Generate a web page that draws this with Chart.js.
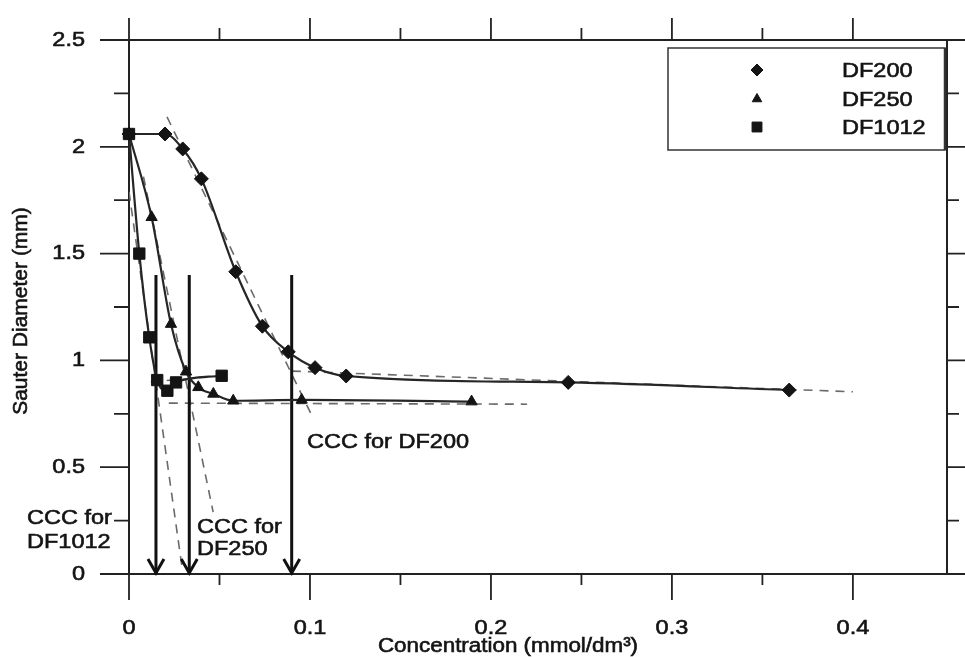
<!DOCTYPE html>
<html>
<head>
<meta charset="utf-8">
<script src="https://cdn.jsdelivr.net/npm/chart.js@4.4.1/dist/chart.umd.min.js"></script>
<style>
  html, body { margin: 0; padding: 0; background: #fff; }
  #wrap { width: 965px; height: 657px; }
</style>
</head>
<body>
<div id="wrap"><canvas id="myChart" width="965" height="657"></canvas></div>
<script>
// measured points: concentration (mmol/dm3) vs Sauter diameter (mm)
const df200X = [0, 0.0199, 0.0297, 0.040, 0.059, 0.0737, 0.088, 0.1028, 0.120, 0.2427, 0.3648];
const df200Y = [2.06, 2.06, 1.99, 1.85, 1.415, 1.16, 1.04, 0.966, 0.927, 0.897, 0.861];
const df250X = [0, 0.0125, 0.0232, 0.0315, 0.0383, 0.0466, 0.0576, 0.0954, 0.1893];
const df250Y = [2.06, 1.67, 1.17, 0.947, 0.874, 0.843, 0.811, 0.815, 0.807];
const df1012X = [0, 0.0057, 0.0112, 0.0156, 0.0212, 0.026, 0.0512];
const df1012Y = [2.06, 1.50, 1.108, 0.908, 0.858, 0.897, 0.928];

// dashed tangent lines used for the CCC construction
const tan200Steep = [[0.021, 2.14], [0.1017, 0.73]];
const tan200Flat = [[0.09, 0.95], [0.40, 0.853]];
const tan250Steep = [[0.008, 1.86], [0.0465, 0.29]];
const tan250Flat = [[0.022, 0.80], [0.22, 0.795]];
const tan1012Steep = [[0.0, 1.79], [0.0295, 0.02]];
const tan1012Flat = [[0.012, 0.90], [0.055, 0.93]];

// CCC arrows
const arrowX = [0.0149, 0.0333, 0.0899];
const arrowTop = 1.40;

// axis ticks
const xMajor = [0, 0.1, 0.2, 0.3, 0.4];
const xTickLabels = ['0', '0.1', '0.2', '0.3', '0.4'];
const xMinor = [0.05, 0.15, 0.25, 0.35];
const yMajor = [0, 0.5, 1, 1.5, 2, 2.5];
const yTickLabels = ['0', '0.5', '1', '1.5', '2', '2.5'];
const yMinor = [0.25, 0.75, 1.25, 1.75, 2.25];

const seriesNames = ['DF200', 'DF250', 'DF1012'];
const seriesStyles = ['rectRot', 'triangle', 'rect'];

const FONT = '"Liberation Sans", Arial, sans-serif';
const INK = '#141414';
const STRETCH = 1.12; // the scanned lettering is a bit wider than Arial

const toXY = (xs, ys) => xs.map((v, i) => ({ x: v, y: ys[i] }));
const toPts = arr => arr.map(p => ({ x: p[0], y: p[1] }));

function markerSet(label, xs, ys, style, radius) {
    return {
        label: label,
        data: toXY(xs, ys),
        borderColor: '#262626',
        borderWidth: 2.2,
        backgroundColor: INK,
        pointBackgroundColor: INK,
        pointBorderColor: INK,
        pointBorderWidth: 1,
        pointStyle: style,
        pointRadius: radius,
        cubicInterpolationMode: 'monotone',
        clip: false
    };
}

function dashSet(pts) {
    return {
        label: 'tangent',
        data: toPts(pts),
        borderColor: '#6a6a6a',
        borderWidth: 1.6,
        borderDash: [9, 7],
        pointRadius: 0,
        tension: 0
    };
}

function arrowSet(xv) {
    return {
        label: 'ccc',
        data: [{ x: xv, y: arrowTop }, { x: xv, y: 0 }],
        borderColor: '#111',
        borderWidth: 3,
        pointRadius: 0,
        tension: 0,
        clip: false
    };
}

// text with a slight horizontal stretch and a faint outline, like the scan
function txt(ctx, s, x, y, align) {
    ctx.save();
    ctx.translate(x, y);
    ctx.scale(STRETCH, 1);
    ctx.textAlign = align || 'left';
    ctx.textBaseline = 'middle';
    ctx.fillText(s, 0, 0);
    ctx.strokeText(s, 0, 0);
    ctx.restore();
}

const decor = {
    id: 'decor',
    beforeDatasetsDraw(chart) {
        const { ctx, chartArea: a, scales: { x, y } } = chart;
        ctx.save();
        ctx.strokeStyle = '#222';
        ctx.lineWidth = 2;
        ctx.beginPath();
        ctx.rect(a.left, a.top, a.right - a.left, a.bottom - a.top);
        ctx.stroke();

        ctx.lineWidth = 1.8;
        ctx.beginPath();
        xMajor.forEach(v => {
            const px = x.getPixelForValue(v);
            ctx.moveTo(px, a.bottom); ctx.lineTo(px, a.bottom + 26);
            ctx.moveTo(px, a.top); ctx.lineTo(px, a.top - 22);
        });
        xMinor.forEach(v => {
            const px = x.getPixelForValue(v);
            ctx.moveTo(px, a.bottom); ctx.lineTo(px, a.bottom + 11);
            ctx.moveTo(px, a.top); ctx.lineTo(px, a.top - 12);
        });
        yMajor.forEach(v => {
            const py = y.getPixelForValue(v);
            ctx.moveTo(a.left, py); ctx.lineTo(a.left - 29, py);
            ctx.moveTo(a.right, py); ctx.lineTo(a.right + 18, py);
        });
        yMinor.forEach(v => {
            const py = y.getPixelForValue(v);
            ctx.moveTo(a.left, py); ctx.lineTo(a.left - 15, py);
            ctx.moveTo(a.right, py); ctx.lineTo(a.right + 12, py);
        });
        ctx.stroke();

        // tick labels
        ctx.fillStyle = INK;
        ctx.strokeStyle = INK;
        ctx.lineWidth = 0.6;
        ctx.font = '21px ' + FONT;
        xMajor.forEach((v, i) => txt(ctx, xTickLabels[i], x.getPixelForValue(v), a.bottom + 54, 'center'));
        yMajor.forEach((v, i) => txt(ctx, yTickLabels[i], a.left - 44, y.getPixelForValue(v), 'right'));
        ctx.restore();
    },
    afterDraw(chart) {
        const { ctx, scales: { x, y } } = chart;
        ctx.save();

        // arrow heads
        ctx.strokeStyle = '#111';
        ctx.lineWidth = 3;
        arrowX.forEach(v => {
            const px = x.getPixelForValue(v);
            const py = y.getPixelForValue(0);
            ctx.beginPath();
            ctx.moveTo(px - 8, py - 15);
            ctx.lineTo(px, py - 1);
            ctx.lineTo(px + 8, py - 15);
            ctx.stroke();
        });

        // annotations
        ctx.fillStyle = INK;
        ctx.strokeStyle = INK;
        ctx.lineWidth = 0.6;
        ctx.font = '21px ' + FONT;
        txt(ctx, 'CCC for DF200', 307, 442);
        txt(ctx, 'CCC for', 27, 518);
        txt(ctx, 'DF1012', 27, 542);
        txt(ctx, 'CCC for', 197, 527);
        txt(ctx, 'DF250', 197, 549);

        // axis titles
        ctx.font = '20px ' + FONT;
        txt(ctx, 'Concentration (mmol/dm³)', 508, 646, 'center');
        ctx.font = '21px ' + FONT;
        ctx.save();
        ctx.translate(21, 311);
        ctx.rotate(-Math.PI / 2);
        ctx.textAlign = 'center';
        ctx.textBaseline = 'middle';
        ctx.fillText('Sauter Diameter (mm)', 0, 0);
        ctx.strokeText('Sauter Diameter (mm)', 0, 0);
        ctx.restore();

        // legend box
        ctx.strokeStyle = '#333';
        ctx.lineWidth = 1.5;
        ctx.fillStyle = '#fff';
        ctx.fillRect(668, 48, 277, 102);
        ctx.strokeRect(668, 48, 277, 102);
        ctx.lineWidth = 2.5;
        ctx.beginPath();
        ctx.moveTo(945, 48); ctx.lineTo(945, 150);
        ctx.stroke();
        const rowY = [70, 99, 127];
        const legR = [6, 5.5, 7];
        ctx.font = '21px ' + FONT;
        seriesNames.forEach((name, i) => {
            ctx.fillStyle = INK;
            ctx.strokeStyle = INK;
            ctx.lineWidth = 1;
            Chart.helpers.drawPoint(ctx, { pointStyle: seriesStyles[i], radius: legR[i], rotation: 0, borderWidth: 1 }, 757, rowY[i]);
            ctx.lineWidth = 0.6;
            txt(ctx, name, 842, rowY[i] + 1);
        });
        ctx.restore();
    }
};

const ctx = document.getElementById('myChart').getContext('2d');
const myChart = new Chart(ctx, {
    type: 'line',
    data: {
        datasets: [
            markerSet(seriesNames[2], df1012X, df1012Y, seriesStyles[2], 8),
            markerSet(seriesNames[1], df250X, df250Y, seriesStyles[1], 6.5),
            markerSet(seriesNames[0], df200X, df200Y, seriesStyles[0], 7),
            arrowSet(arrowX[0]),
            arrowSet(arrowX[1]),
            arrowSet(arrowX[2]),
            dashSet(tan200Steep),
            dashSet(tan200Flat),
            dashSet(tan250Steep),
            dashSet(tan250Flat),
            dashSet(tan1012Steep),
            dashSet(tan1012Flat)
        ]
    },
    options: {
        responsive: false,
        animation: false,
        layout: { padding: { left: 0, right: 18, top: 40, bottom: 0 } },
        plugins: {
            legend: { display: false },
            tooltip: { enabled: false }
        },
        scales: {
            x: {
                type: 'linear',
                min: 0,
                max: 0.452,
                grid: { display: false, drawTicks: false },
                border: { display: false },
                ticks: { display: false },
                afterBuildTicks: s => { s.ticks = xMajor.map(v => ({ value: v })); },
                afterFit: s => { s.height = 83; }
            },
            y: {
                type: 'linear',
                min: 0,
                max: 2.5,
                grid: { display: false, drawTicks: false },
                border: { display: false },
                ticks: { display: false },
                afterBuildTicks: s => { s.ticks = yMajor.map(v => ({ value: v })); },
                afterFit: s => { s.width = 129; }
            }
        }
    },
    plugins: [decor]
});
</script>
</body>
</html>
